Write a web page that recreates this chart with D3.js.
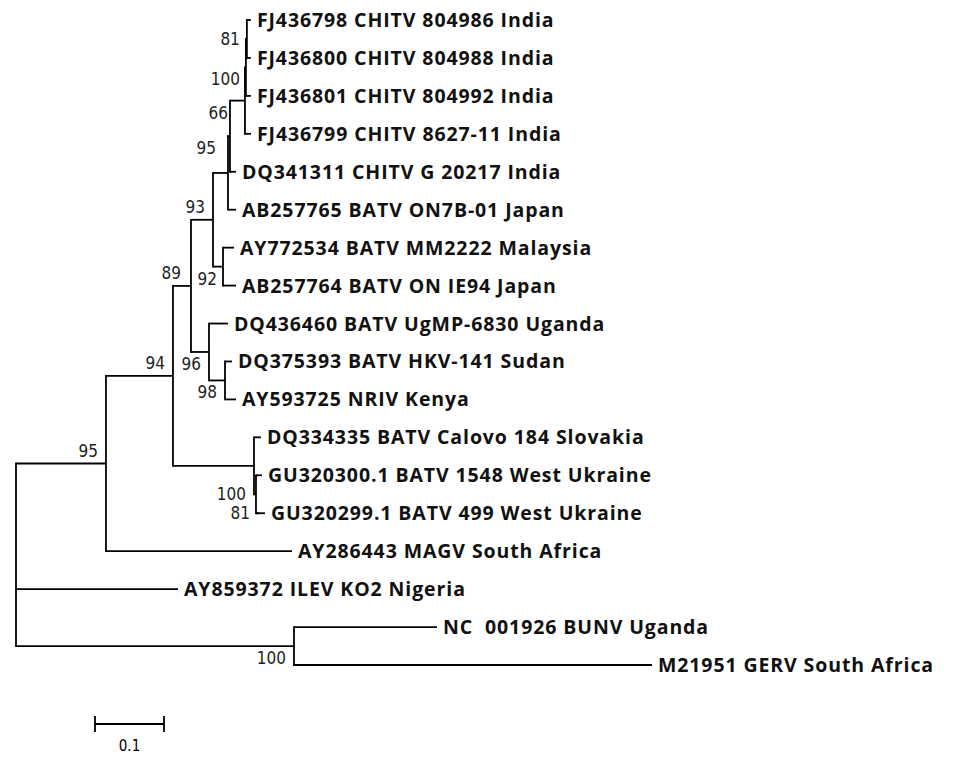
<!DOCTYPE html>
<html>
<head>
<meta charset="utf-8">
<script src="https://cdn.jsdelivr.net/npm/d3@7"></script>
<style>body{margin:0;background:#fff} text{white-space:pre}</style>
</head>
<body>
<div id="canvas"></div>
<script>
"use strict"

// tree as parallel arrays: node id, parent id, branch length, bootstrap support
let nodeIds = ["root","n95a","ILEV","nBU","MAGV","n94","n89","nCal","n93","n96","n95x","n92","AB257765","n66x","DQ341311","nFJ","FJ436799","n100","FJ436801","n81","FJ436798","FJ436800","AY772534","AB257764","DQ436460","n98","DQ375393","AY593725","DQ334335","n100b","GU320300","n81b","GU320299","BUNV","GERV"]
let parentIds = ["","root","root","root","n95a","n95a","n94","n94","n89","n89","n93","n93","n95x","n95x","n66x","n66x","nFJ","nFJ","n100","n100","n81","n81","n92","n92","n96","n96","n98","n98","nCal","nCal","n100b","n100b","n81b","nBU","nBU"]
let branchLengths = [0,0.1304,0.2348,0.4029,0.2696,0.0971,0.0261,0.1174,0.0319,0.0261,0.0217,0.0145,0.0116,0.0029,0.0087,0.0217,0.0087,0.0014,0.0072,0.0014,0.0058,0.0058,0.0159,0.0188,0.0275,0.0232,0.0101,0.0159,0.0101,0.0029,0.0087,0.0029,0.0101,0.2072,0.5188]
let supports = ["","95","","100","","94","89","","93","96","","92","","95","","66","","100","","81","","","","","","98","","","","100","","81","","",""]
// leaf names in top-to-bottom order
let leafOrder = ["FJ436798","FJ436800","FJ436801","FJ436799","DQ341311","AB257765","AY772534","AB257764","DQ436460","DQ375393","AY593725","DQ334335","GU320300","GU320299","MAGV","ILEV","BUNV","GERV"]
let leafLabels = ["FJ436798 CHITV 804986 India","FJ436800 CHITV 804988 India","FJ436801 CHITV 804992 India","FJ436799 CHITV 8627-11 India","DQ341311 CHITV G 20217 India","AB257765 BATV ON7B-01 Japan","AY772534 BATV MM2222 Malaysia","AB257764 BATV ON IE94 Japan","DQ436460 BATV UgMP-6830 Uganda","DQ375393 BATV HKV-141 Sudan","AY593725 NRIV Kenya","DQ334335 BATV Calovo 184 Slovakia","GU320300.1 BATV 1548 West Ukraine","GU320299.1 BATV 499 West Ukraine","AY286443 MAGV South Africa","AY859372 ILEV KO2 Nigeria","NC  001926 BUNV Uganda","M21951 GERV South Africa"]
let scaleBarValue = 0.1

// where each support number sits relative to its node (a above, b below, m middle) and extra left shift
let supportPlace = {n95a:["a",0],nBU:["b",0],n94:["a",0],n89:["a",2],n93:["a",0],n96:["b",0],n92:["b",-2],
                    n66x:["b",6],nFJ:["b",9],n100:["b",-2],n81:["m",-1],n98:["b",0],n100b:["m",2],n81b:["m",0]}

let drawing = d3.select("#canvas").append("svg")
    .attr("width", 960).attr("height", 762)

let table = nodeIds.map((id, i) => ({id: id, parent: parentIds[i], bl: branchLengths[i], support: supports[i]}))
let root = d3.stratify().id(d => d.id).parentId(d => d.parent || null)(table)

/* depth in substitutions from root */
root.each(n => { n.dist = n.parent ? n.parent.dist + n.data.bl : 0 })

let x = d3.scaleLinear().domain([0, 1]).range([16, 706])
let y = d3.scalePoint().domain(leafOrder).range([20, 665])

// internal node y = midpoint of first and last child
root.eachAfter(n => {
  if (!n.children) n.py = y(n.id)
  else {
    let ys = n.children.map(c => c.py)
    n.py = (d3.min(ys) + d3.max(ys)) / 2
  }
})

let g = drawing.append("g").attr("stroke", "black").attr("stroke-width", 1.8).attr("fill", "none")

root.descendants().forEach(n => {
  if (n.parent) {
    g.append("line").attr("x1", x(n.parent.dist)).attr("x2", x(n.dist))
      .attr("y1", n.py).attr("y2", n.py)
  }
  if (n.children) {
    let ys = n.children.map(c => c.py)
    g.append("line").attr("x1", x(n.dist)).attr("x2", x(n.dist))
      .attr("y1", d3.min(ys) - 0.9).attr("y2", d3.max(ys) + 0.9)
  }
})

/* leaf labels */
root.leaves().forEach(n => {
  drawing.append("text")
    .attr("x", x(n.dist) + 6).attr("y", n.py + 7)
    .attr("font-family", "Open Sans, sans-serif").attr("font-weight", "bold")
    .attr("font-size", 19.5).attr("letter-spacing", 0.9).attr("fill", "#111")
    .text(leafLabels[leafOrder.indexOf(n.id)])
})

/* bootstrap values */
root.descendants().filter(n => n.data.support).forEach(n => {
  let p = supportPlace[n.id]
  let dy = p[0] == "a" ? -7 : p[0] == "b" ? 18 : 6
  drawing.append("text")
    .attr("x", x(n.dist) - 8 - p[1]).attr("y", n.py + dy)
    .attr("text-anchor", "end")
    .attr("font-family", "DejaVu Sans Condensed, DejaVu Sans, sans-serif")
    .attr("font-size", 17).attr("fill", "#222")
    .text(n.data.support)
})

/* scale bar */
let sb = drawing.append("g").attr("stroke", "black").attr("stroke-width", 1.8)
sb.append("line").attr("x1", x(0) + 79).attr("x2", x(scaleBarValue) + 79).attr("y1", 724).attr("y2", 724)
sb.append("line").attr("x1", x(0) + 79).attr("x2", x(0) + 79).attr("y1", 716).attr("y2", 732)
sb.append("line").attr("x1", x(scaleBarValue) + 79).attr("x2", x(scaleBarValue) + 79).attr("y1", 716).attr("y2", 732)
drawing.append("text").attr("x", x(scaleBarValue / 2) + 79).attr("y", 751)
  .attr("text-anchor", "middle").attr("font-family", "DejaVu Sans Condensed, DejaVu Sans, sans-serif")
  .attr("font-size", 15).text(scaleBarValue)
</script>
</body>
</html>
